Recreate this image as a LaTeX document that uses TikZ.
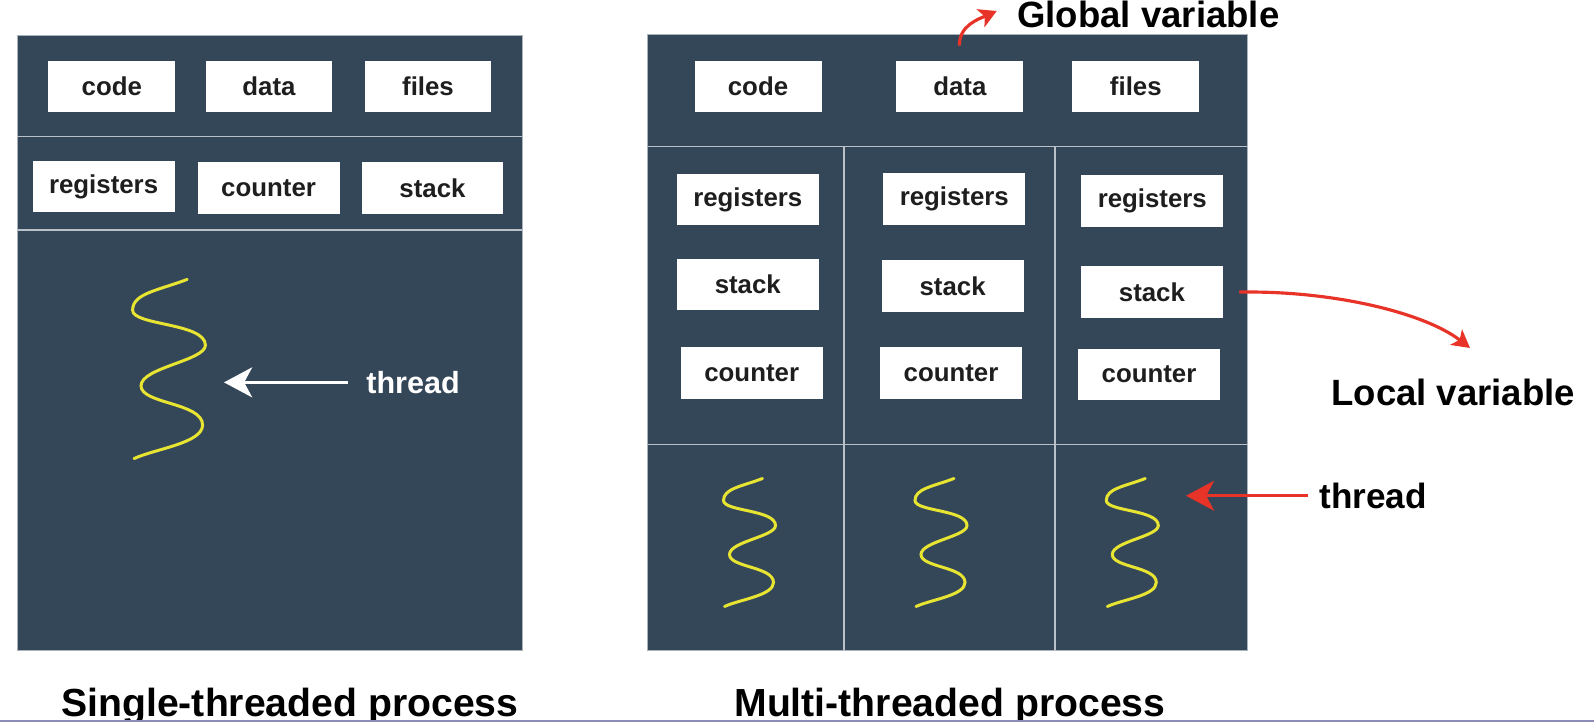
\documentclass[tikz,border=0pt]{standalone}
\usepackage{fontspec}
\setmainfont{Liberation Sans}
\usepackage{tikz}
\usetikzlibrary{arrows.meta, positioning}
\definecolor{panelbg}{RGB}{52,71,89}
\definecolor{panelline}{RGB}{170,178,186}
\definecolor{divline}{RGB}{185,192,200}
\definecolor{waveyellow}{RGB}{232,228,50}
\definecolor{redline}{RGB}{232,52,40}
\definecolor{boxtext}{RGB}{30,30,30}
\definecolor{bottomline}{RGB}{140,140,185}
\tikzset{
    pics/squiggle/.style={code={
        \draw[wavyline] (13,-64) .. controls (-8,-56) and (-26,-54) .. (-26,-42)
            .. controls (-26,-31) and (26,-33) .. (26,-17)
            .. controls (26,-6) and (-20,-1) .. (-20,12)
            .. controls (-20,25) and (24,24) .. (24,40)
            .. controls (24,53) and (-10,57) .. (-25,64);
    }}
}

\begin{document}
\begin{tikzpicture}[
    x=0.02cm, y=-0.02cm, % 1 unit = 1 px of the original, y goes down
    % Styles for the panels
    panel/.style={rectangle, draw=panelline, line width=0.6pt, fill=panelbg, inner sep=0pt},
    divider/.style={draw=divline, line width=1pt},
    % Styles for the boxes
    membox/.style={rectangle, fill=white, inner sep=0pt, minimum width=2.54cm, minimum height=1.02cm, text=boxtext, font=\fontsize{14.7}{17}\selectfont\bfseries},
    regbox/.style={membox, minimum width=2.84cm, minimum height=1.04cm},
    % Styles for the threads and arrows
    wavyline/.style={draw=waveyellow, line width=1.7pt, line cap=round},
    whitearrow/.style={draw=white, line width=1.7pt, -{Stealth[length=16pt, width=17pt, inset=4.5pt]}},
    redarrow/.style={draw=redline, line width=1.7pt, -{Stealth[length=16pt, width=17pt, inset=4.5pt]}},
    redcurve/.style={draw=redline, line width=1.8pt, -{Stealth[length=10pt, width=11pt, inset=2.5pt]}},
    % Styles for the texts
    whitelabel/.style={inner sep=0pt, text=white, font=\fontsize{17.4}{20}\selectfont\bfseries},
    threadlabel/.style={inner sep=0pt, font=\fontsize{20}{24}\selectfont\bfseries},
    varlabel/.style={inner sep=0pt, font=\fontsize{20.8}{24}\selectfont\bfseries},
    captiontext/.style={inner sep=0pt, font=\fontsize{22.3}{26}\selectfont\bfseries}
]
\useasboundingbox (0,0) rectangle (1594,722);

% === SINGLE-THREADED PROCESS ===
\node[panel, minimum width=10.1cm, minimum height=12.31cm] (single) at (269.8,342.8) {};
\draw[divider] (17.3,136.5) -- (522.3,136.5);
\draw[divider] (17.3,230) -- (522.3,230);

\node[membox] (scode) at (111.8,86.5) {code};
\node[membox] (sdata) at (269,86.5) {data};
\node[membox] (sfiles) at (428,86.5) {files};
\node[regbox] (sregs) at (103.6,186.5) {registers};
\node[regbox] (scounter) at (268.6,188) {counter};
\node[regbox] (sstack) at (432.5,188) {stack};

\pic[scale=1.4] at (169,369) {squiggle};
\coordinate (swave) at (224,385);
\node[whitelabel, anchor=base west] (sthread) at (366,393.3) {thread};
\draw[whitearrow, shorten <=0.36cm] (sthread.west) -- (sthread.west -| swave);

\node[captiontext, anchor=base west] (scaption) at (61,716.7) {Single-threaded process};

% === MULTI-THREADED PROCESS ===
\node[panel, minimum width=12cm, minimum height=12.33cm] (multi) at (947.8,342.5) {};
\draw[divider] (647.8,146.5) -- (1247.8,146.5);
\draw[divider] (647.8,444.5) -- (1247.8,444.5);
\draw[divider] (844,146.5) -- (844,650.7);
\draw[divider] (1055,146.5) -- (1055,650.7);

\node[membox] (mcode) at (758,86.5) {code};
\node[membox] (mdata) at (959.8,86.5) {data};
\node[membox] (mfiles) at (1135.8,86.5) {files};

% thread 1
\node[regbox] (mregsA) at (747.8,199.5) {registers};
\node[regbox] (mstackA) at (747.8,284.5) {stack};
\node[regbox] (mcountA) at (751.7,372.9) {counter};
% thread 2
\node[regbox] (mregsB) at (954.3,199.3) {registers};
\node[regbox] (mstackB) at (952.6,286) {stack};
\node[regbox] (mcountB) at (951,372.9) {counter};
% thread 3
\node[regbox] (mregsC) at (1152.3,200.9) {registers};
\node[regbox] (mstackC) at (1151.9,292.4) {stack};
\node[regbox] (mcountC) at (1149,374.5) {counter};

\pic at (749.5,542.5) {squiggle};
\pic at (941,542.5) {squiggle};
\pic at (1132.3,542.5) {squiggle};

\node[captiontext, anchor=base west] (mcaption) at (734,716.7) {Multi-threaded process};

% === LABELS AND ARROWS ===
\coordinate (mwave) at (1186,497);
\node[threadlabel, anchor=base west] (mthread) at (1319,508.3) {thread};
\draw[redarrow, shorten <=0.22cm] (mthread.west) -- (mthread.west -| mwave);

\coordinate (lvtip) at (1470,348);
\node[varlabel, anchor=base west] (localvar) at (1331,405) {Local variable};
\draw[redcurve, shorten <=0.32cm] (mstackC.east) .. controls +(110,-2) and +(-45,-35) .. (lvtip);

\coordinate (gvtip) at (996.7,11);
\node[varlabel, anchor=base west] (globalvar) at (1017,28) {Global variable};
\draw[redcurve, shorten <=0.3cm] (mdata.north) .. controls +(-1,-35) and +(-18,8) .. (gvtip);

% === BOTTOM EDGE ===
\draw[bottomline, line width=1.2pt] (0,721) -- (1594,721);

\end{tikzpicture}
\end{document}
